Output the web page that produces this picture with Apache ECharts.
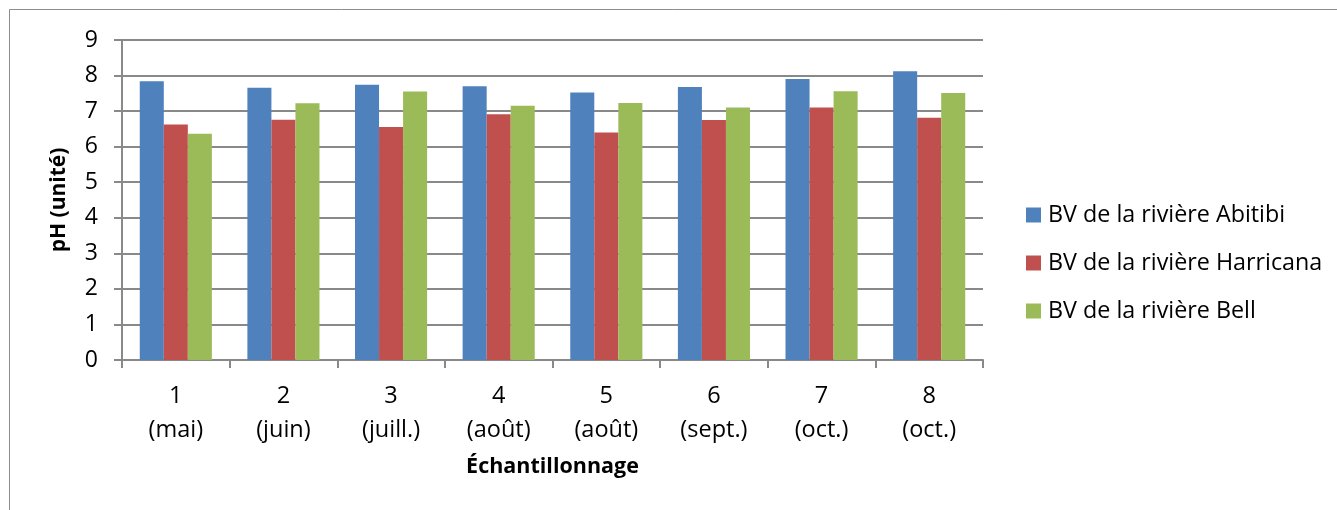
<!DOCTYPE html>
<html>
<head>
<meta charset="utf-8">
<script src="https://cdn.jsdelivr.net/npm/echarts@6/dist/echarts.min.js"></script>
<style>
  html, body { margin: 0; padding: 0; background: #fff; }
  #chart { width: 1337px; height: 510px; }
</style>
</head>
<body>
<div id="chart"></div>
<script>
// Sampling campaigns (number + month)
const categories = ['1\n(mai)', '2\n(juin)', '3\n(juill.)', '4\n(août)', '5\n(août)', '6\n(sept.)', '7\n(oct.)', '8\n(oct.)'];

// pH per watershed
const abitibi   = [7.84, 7.66, 7.74, 7.70, 7.52, 7.68, 7.90, 8.12];
const harricana = [6.62, 6.76, 6.55, 6.91, 6.40, 6.75, 7.10, 6.81];
const bell      = [6.36, 7.22, 7.55, 7.15, 7.23, 7.10, 7.56, 7.51];

const seriesNames = ['BV de la rivière Abitibi', 'BV de la rivière Harricana', 'BV de la rivière Bell'];
const colors = ['#4F81BD', '#C0504D', '#9BBB59'];

const FONT = '"Open Sans", "Noto Sans", sans-serif';
const AXIS_GREY = '#898989';

const chart = echarts.init(document.getElementById('chart'), null, { renderer: 'canvas' });

const barSeries = [abitibi, harricana, bell].map((values, i) => ({
  name: seriesNames[i],
  type: 'bar',
  data: values,
  barGap: '0%',
  barCategoryGap: '33%',
  itemStyle: { color: colors[i] },
  emphasis: { disabled: true },
  animation: false
}));

chart.setOption({
  animation: false,
  color: colors,
  textStyle: { fontFamily: FONT },
  graphic: [{
    type: 'rect',
    shape: { x: 9.5, y: 9.5, width: 1340, height: 520 },
    style: { fill: 'none', stroke: '#8c8c8c', lineWidth: 1 },
    silent: true,
    z: -1
  }],
  grid: { left: 122, right: 354, top: 40, bottom: 150, containLabel: false },
  legend: {
    orient: 'vertical',
    left: 1026,
    top: 202,
    padding: 0,
    itemWidth: 15,
    itemHeight: 15,
    itemGap: 22,
    icon: 'rect',
    textStyle: { fontFamily: FONT, fontSize: 23.3, color: '#000', lineHeight: 26, padding: [0, 0, 0, 2] },
    selectedMode: false,
    data: seriesNames
  },
  xAxis: {
    type: 'category',
    data: categories,
    name: 'Échantillonnage',
    nameLocation: 'middle',
    nameGap: 96,
    nameTextStyle: { fontFamily: FONT, fontSize: 21.5, fontWeight: 'bold', color: '#000' },
    axisLine: { lineStyle: { color: AXIS_GREY, width: 2 } },
    axisTick: { show: true, length: 8, alignWithLabel: false, lineStyle: { color: AXIS_GREY, width: 2 } },
    axisLabel: { fontFamily: FONT, fontSize: 23.5, color: '#000', lineHeight: 34, margin: 19, interval: 0 }
  },
  yAxis: {
    type: 'value',
    min: 0,
    max: 9,
    interval: 1,
    name: 'pH (unité)',
    nameLocation: 'middle',
    nameGap: 52,
    nameRotate: 90,
    nameTextStyle: { fontFamily: FONT, fontSize: 21, fontWeight: 'bold', color: '#000' },
    axisLine: { show: true, lineStyle: { color: AXIS_GREY, width: 2 } },
    axisTick: { show: true, length: 8, lineStyle: { color: AXIS_GREY, width: 2 } },
    axisLabel: { fontFamily: FONT, fontSize: 23, color: '#000', margin: 24 },
    splitLine: { show: true, lineStyle: { color: AXIS_GREY, width: 2 } }
  },
  series: barSeries
});
</script>
</body>
</html>
